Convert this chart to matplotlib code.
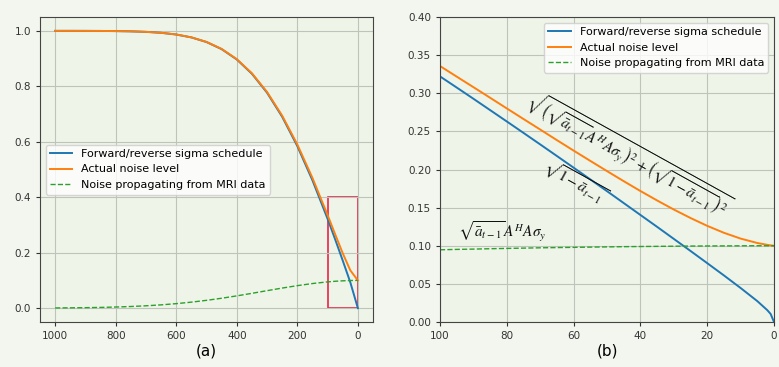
import matplotlib.pyplot as plt
from matplotlib.patches import Rectangle

plt.rcParams['mathtext.fontset'] = 'stix'

# (a) full schedule
t_full = [1000, 950, 900, 850, 800, 750, 700, 650, 600, 550, 500, 450, 400, 350, 300, 250, 200,
          150, 100, 75, 50, 25, 0]
sigma_full = [1.0, 1.0, 0.9999, 0.9997, 0.9992, 0.9983, 0.9964, 0.993, 0.9868, 0.9764, 0.9597,
              0.9341, 0.8969, 0.8453, 0.777, 0.6902, 0.5845, 0.461, 0.3221, 0.248, 0.1716,
              0.0932, 0.0]
actual_full = [1.0, 1.0, 0.9999, 0.9997, 0.9992, 0.9983, 0.9964, 0.9931, 0.987, 0.9766, 0.9601,
               0.9348, 0.898, 0.847, 0.7795, 0.6939, 0.5901, 0.4694, 0.3357, 0.2662, 0.1979,
               0.1364, 0.1]
mri_full = [0.0007, 0.0011, 0.0017, 0.0026, 0.004, 0.0059, 0.0084, 0.0118, 0.0162, 0.0216, 0.0281,
            0.0357, 0.0442, 0.0534, 0.063, 0.0724, 0.0811, 0.0887, 0.0947, 0.0969, 0.0985,
            0.0996, 0.1]

# (b) zoom on the last 100 steps
t_zoom = [100, 95, 90, 85, 80, 75, 70, 65, 60, 55, 50, 45, 40, 35, 30, 25, 20, 15, 10, 5, 2, 1, 0]
sigma_zoom = [0.3221, 0.3075, 0.2928, 0.2779, 0.263, 0.248, 0.2329, 0.2177, 0.2024, 0.187, 0.1716,
              0.156, 0.1404, 0.1248, 0.109, 0.0932, 0.0772, 0.0611, 0.0446, 0.0274, 0.0155,
              0.0105, 0.0]
actual_zoom = [0.3357, 0.3218, 0.308, 0.2941, 0.2801, 0.2662, 0.2524, 0.2385, 0.2248, 0.2113,
               0.1979, 0.1847, 0.1718, 0.1594, 0.1475, 0.1364, 0.1261, 0.117, 0.1094, 0.1036,
               0.1012, 0.1005, 0.1]
mri_zoom = [0.0947, 0.0952, 0.0956, 0.0961, 0.0965, 0.0969, 0.0973, 0.0976, 0.0979, 0.0982,
            0.0985, 0.0988, 0.099, 0.0992, 0.0994, 0.0996, 0.0997, 0.0998, 0.0999, 0.1, 0.1,
            0.1, 0.1]

labels = ['Forward/reverse sigma schedule', 'Actual noise level', 'Noise propagating from MRI data']

fig = plt.figure(figsize=(7.79, 3.67), dpi=100, facecolor='#f2f6ee')
ax1 = fig.add_axes([40 / 779, 45 / 367, 333 / 779, 305 / 367])
ax2 = fig.add_axes([440 / 779, 45 / 367, 334 / 779, 305 / 367])

for ax in (ax1, ax2):
    ax.set_facecolor('#eef4e8')
    ax.grid(True, color='#bfc4bb', linewidth=0.8)
    ax.tick_params(labelsize=7.5, colors='#333333', length=3)
    for s in ax.spines.values():
        s.set_color('#444444')

ax1.plot(t_full, sigma_full, color='#1f77b4', lw=1.4, label=labels[0])
ax1.plot(t_full, actual_full, color='#ff7f0e', lw=1.4, label=labels[1])
ax1.plot(t_full, mri_full, color='#2ca02c', lw=1.0, ls='--', label=labels[2])
ax1.add_patch(Rectangle((0, 0), 100, 0.4, fill=False, edgecolor='#e8234a', lw=1.2))
ax1.set_xlim(1050, -50)
ax1.set_ylim(-0.05, 1.05)
ax1.set_xticks([1000, 800, 600, 400, 200, 0])
ax1.set_yticks([0.0, 0.2, 0.4, 0.6, 0.8, 1.0])
ax1.legend(loc='center left', fontsize=8)
ax1.set_xlabel('(a)', fontsize=11, labelpad=2)

ax2.plot(t_zoom, sigma_zoom, color='#1f77b4', lw=1.4, label=labels[0])
ax2.plot(t_zoom, actual_zoom, color='#ff7f0e', lw=1.4, label=labels[1])
ax2.plot(t_zoom, mri_zoom, color='#2ca02c', lw=1.0, ls='--', label=labels[2])
ax2.set_xlim(100, 0)
ax2.set_ylim(0, 0.40)
ax2.set_xticks([100, 80, 60, 40, 20, 0])
ax2.set_yticks([0.0, 0.05, 0.10, 0.15, 0.20, 0.25, 0.30, 0.35, 0.40])
ax2.yaxis.set_major_formatter(plt.FormatStrFormatter('%.2f'))
ax2.legend(loc='upper right', fontsize=8)
ax2.set_xlabel('(b)', fontsize=11, labelpad=2)

ax2.text(43.5, 0.219, r'$\sqrt{\left(\sqrt{\bar{a}_{t-1}}A^H A\sigma_y\right)^2+\left(\sqrt{1-\bar{a}_{t-1}}\right)^2}$',
         rotation=-29, rotation_mode='anchor', ha='center', va='center', fontsize=10.8, color='#111111')
ax2.text(59.5, 0.183, r'$\sqrt{1-\bar{a}_{t-1}}$',
         rotation=-29, rotation_mode='anchor', ha='center', va='center', fontsize=11, color='#111111')
ax2.text(81.5, 0.119, r'$\sqrt{\bar{a}_{t-1}}A^H A\sigma_y$',
         ha='center', va='center', fontsize=11, color='#111111')

fig.savefig('out.png', dpi=100, facecolor=fig.get_facecolor())
